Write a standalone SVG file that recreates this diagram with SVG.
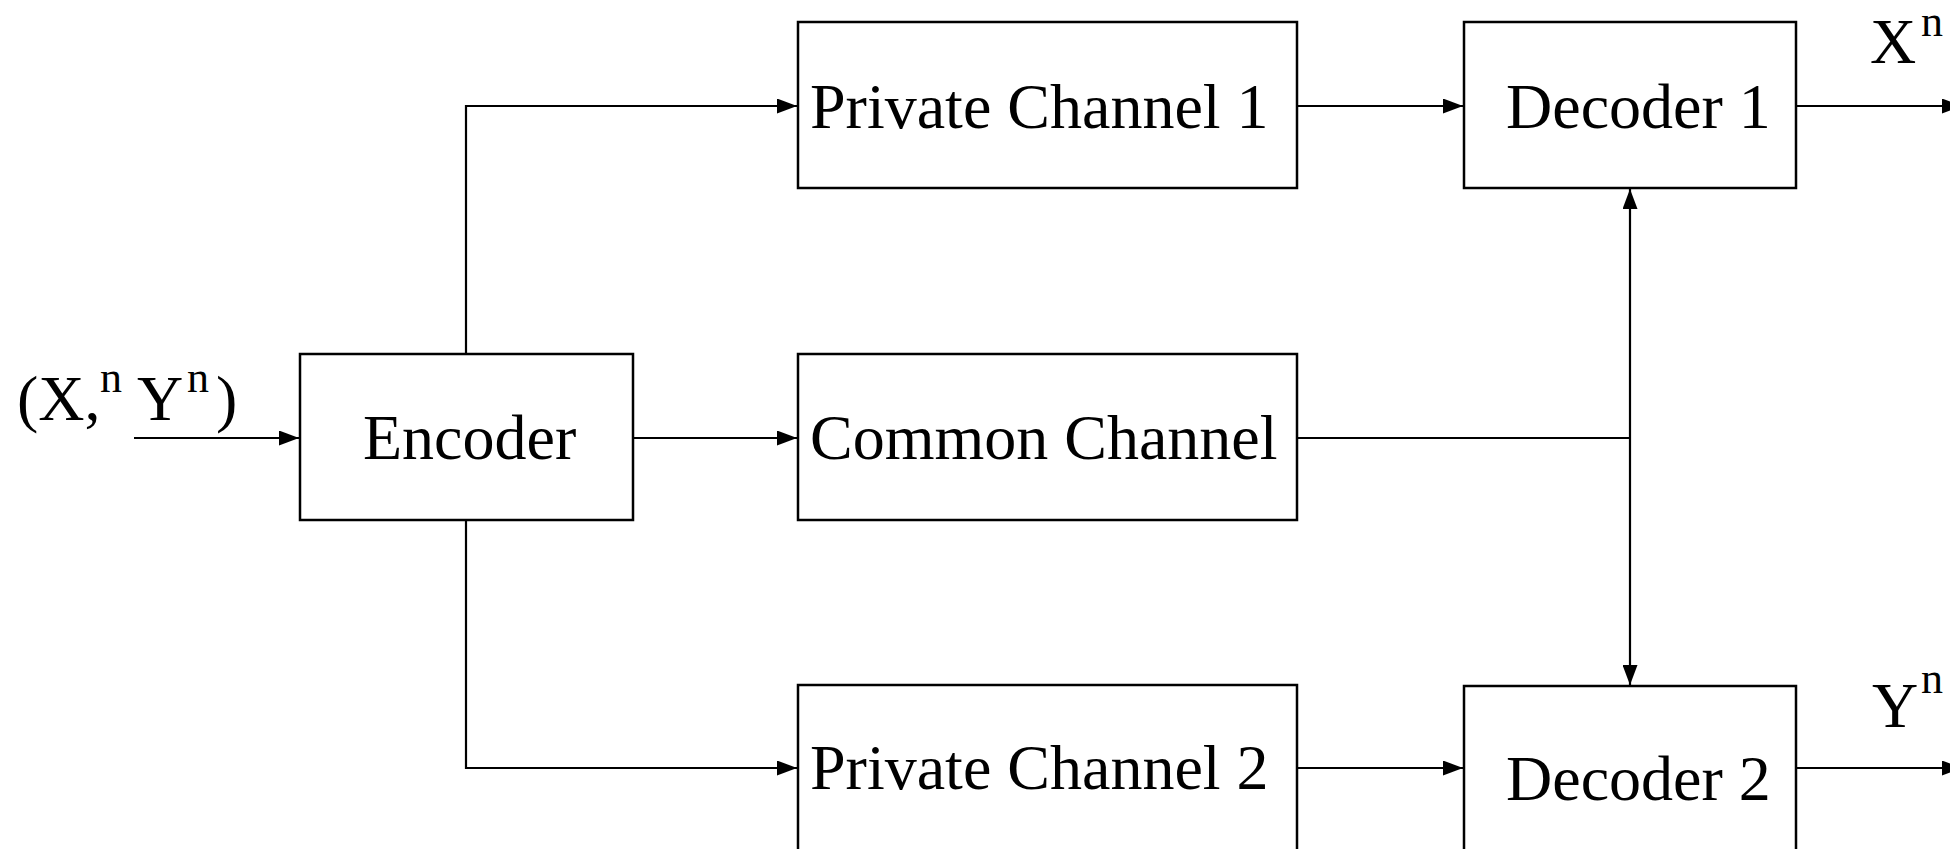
<svg xmlns="http://www.w3.org/2000/svg" width="1950" height="849" viewBox="0 0 1950 849">
<style>
.box{fill:#fff;stroke:#000;stroke-width:2.5}
.lbl{font-family:"Liberation Serif","Times New Roman",serif;font-size:64px;fill:#000}
.sup{font-family:"Liberation Serif","Times New Roman",serif;font-size:44px;fill:#000}
.wire{fill:none;stroke:#000;stroke-width:2.2}
</style>
<defs>
<marker id="ah" markerWidth="20" markerHeight="15" refX="20" refY="7.5" orient="auto" markerUnits="userSpaceOnUse">
<path d="M0,0 L20,7.5 L0,15 Z" fill="#000"/>
</marker>
<marker id="ahs" markerWidth="20" markerHeight="15" refX="20" refY="7.5" orient="auto-start-reverse" markerUnits="userSpaceOnUse">
<path d="M0,0 L20,7.5 L0,15 Z" fill="#000"/>
</marker>
</defs>
<rect width="1950" height="849" fill="#fff"/>
<g id="connectors">
<path class="wire" d="M134,438 H299" marker-end="url(#ah)"/>
<path class="wire" d="M466,354 V106 H797" marker-end="url(#ah)"/>
<path class="wire" d="M633,438 H797" marker-end="url(#ah)"/>
<path class="wire" d="M466,520 V768 H797" marker-end="url(#ah)"/>
<path class="wire" d="M1297,106 H1463" marker-end="url(#ah)"/>
<path class="wire" d="M1297,768 H1463" marker-end="url(#ah)"/>
<path class="wire" d="M1297,438 H1630"/>
<path class="wire" d="M1630,189 V685" marker-start="url(#ahs)" marker-end="url(#ah)"/>
<path class="wire" d="M1796,106 H1962" marker-end="url(#ah)"/>
<path class="wire" d="M1796,768 H1962" marker-end="url(#ah)"/>
</g>
<g id="input-label">
<text class="lbl" x="17" y="420">(X,</text>
<text class="sup" x="100" y="392">n</text>
<text class="lbl" x="137" y="420">Y</text>
<text class="sup" x="187" y="392">n</text>
<text class="lbl" x="216" y="420">)</text>
</g>
<g id="encoder">
<rect class="box" x="300" y="354" width="333" height="166"/>
<text class="lbl" x="363" y="459">Encoder</text>
</g>
<g id="private-channel-1">
<rect class="box" x="798" y="22" width="499" height="166"/>
<text class="lbl" x="810" y="128">Private Channel 1</text>
</g>
<g id="common-channel">
<rect class="box" x="798" y="354" width="499" height="166"/>
<text class="lbl" x="810" y="459">Common Channel</text>
</g>
<g id="private-channel-2">
<rect class="box" x="798" y="685" width="499" height="180"/>
<text class="lbl" x="810" y="789">Private Channel 2</text>
</g>
<g id="decoder-1">
<rect class="box" x="1464" y="22" width="332" height="166"/>
<text class="lbl" x="1506" y="128">Decoder 1</text>
</g>
<g id="decoder-2">
<rect class="box" x="1464" y="686" width="332" height="180"/>
<text class="lbl" x="1506" y="800">Decoder 2</text>
</g>
<g id="output-x">
<text class="lbl" x="1870" y="63">X</text>
<text class="sup" x="1921" y="36">n</text>
</g>
<g id="output-y">
<text class="lbl" x="1872" y="727">Y</text>
<text class="sup" x="1921" y="693">n</text>
</g>
</svg>
